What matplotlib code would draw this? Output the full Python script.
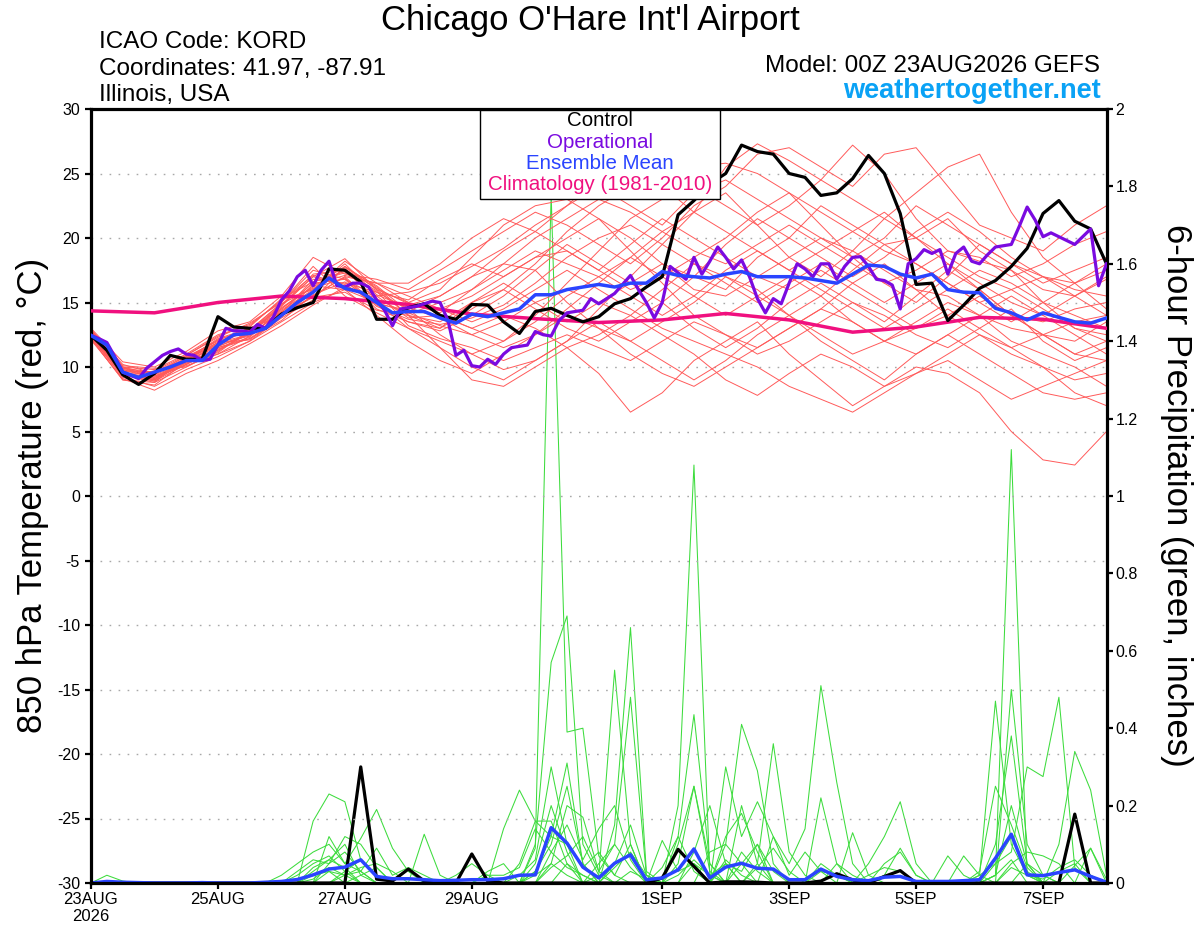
import numpy as np
import matplotlib
matplotlib.use('Agg')
import matplotlib.pyplot as plt
from matplotlib.patches import Rectangle

# ---------------- data ----------------
hours3 = np.arange(0, 385, 3)
hours6 = np.arange(0, 385, 6)
hours12 = np.arange(0, 385, 12)
hours24 = np.arange(0, 385, 24)

tick_hours = [0, 48, 96, 144, 216, 264, 312, 360]
tick_labels = ['23AUG\n2026', '25AUG', '27AUG', '29AUG', '1SEP', '3SEP', '5SEP', '7SEP']

control_t = [12.45, 11.3, 9.4, 8.65, 9.5, 10.9, 10.6, 10.6,
             13.9, 13.1, 13.0, 13.0, 14.1, 14.6, 15.0, 17.6,
             17.5, 16.6, 13.7, 13.7, 14.6, 14.9, 14.0, 13.7,
             14.85, 14.8, 13.5, 12.6, 14.3, 14.55, 14.0, 13.5,
             13.9, 14.9, 15.3, 16.2, 17.0, 21.8, 22.9, 24.2,
             25.0, 27.2, 26.7, 26.5, 25.0, 24.7, 23.3, 23.5,
             24.6, 26.4, 25.0, 21.9, 16.4, 16.5, 13.6, 14.8,
             16.1, 16.7, 17.8, 19.2, 21.9, 22.9, 21.3, 20.7,
             18.0]

operational_t = [12.45, 12.2, 11.9, 10.8, 9.6, 9.35, 9.1, 9.9,
                 10.4, 10.9, 11.2, 11.4, 11.0, 10.9, 10.5, 10.6,
                 11.7, 13.0, 12.8, 12.8, 12.7, 13.3, 13.0, 13.9,
                 15.2, 15.9, 17.0, 17.5, 16.3, 17.5, 18.2, 16.3,
                 16.2, 16.5, 16.5, 16.2, 15.2, 14.4, 13.2, 14.5,
                 14.6, 14.7, 14.9, 15.1, 15.0, 13.6, 10.9, 11.3,
                 10.1, 10.0, 10.6, 10.2, 11.0, 11.5, 11.6, 11.7,
                 12.75, 12.5, 12.4, 13.6, 14.2, 14.3, 14.4, 15.3,
                 14.9, 15.3, 15.7, 16.4, 17.1, 16.0, 15.0, 13.8,
                 15.0, 17.8, 17.3, 16.8, 18.5, 17.2, 18.2, 19.3,
                 18.5, 17.6, 18.3, 17.0, 15.3, 14.2, 15.3, 14.9,
                 16.5, 18.0, 17.6, 17.0, 18.0, 18.0, 16.8, 17.8,
                 18.5, 18.55, 17.8, 16.8, 16.7, 16.35, 14.5, 18.0,
                 18.4, 19.1, 18.8, 19.1, 17.2, 18.8, 19.3, 18.2,
                 18.0, 18.7, 19.3, 19.4, 19.5, 20.9, 22.4, 21.4,
                 20.1, 20.4, 20.1, 19.8, 19.5, 20.1, 20.7, 16.3,
                 18.0]

mean_t = [12.45, 11.7, 9.6, 9.2, 9.6, 10.0, 10.5, 10.5,
          11.7, 12.5, 12.6, 13.0, 14.0, 15.0, 15.8, 16.9,
          16.1, 15.8, 15.0, 14.2, 14.3, 14.3, 13.8, 13.4,
          14.1, 13.9, 14.2, 14.5, 15.6, 15.6, 16.0, 16.2,
          16.4, 16.2, 16.5, 16.5, 17.4, 17.1, 17.0, 16.9,
          17.2, 17.4, 17.0, 17.0, 17.0, 16.9, 16.7, 16.5,
          17.2, 17.9, 17.8, 17.2, 16.9, 17.2, 16.0, 15.8,
          15.75, 14.55, 14.2, 13.65, 14.2, 13.85, 13.5, 13.4,
          13.8]

climatology_t = [14.35, 14.2, 15.0, 15.5, 15.3, 14.85, 14.1, 13.75, 13.45,
                 13.65, 14.15, 13.65, 12.7, 13.1, 13.85, 13.7, 13.0]

member_t = [
    [12.8, 9.8, 9.2, 10.2, 11.5, 12.3, 14.5, 16.5, 16.8, 15.5, 15.8,
     16.5, 17.8, 19.2, 21.0, 22.5, 24.8, 25.5, 24.0, 22.0, 25.5, 27.3,
     26.0, 24.5, 27.2, 25.0, 21.5, 19.0, 18.2, 17.5, 16.0, 15.5, 16.8],
    [12.6, 9.4, 8.8, 10.8, 12.0, 12.8, 15.0, 17.8, 15.5, 14.2, 13.0,
     12.0, 11.0, 9.8, 10.5, 12.0, 14.5, 17.0, 19.5, 22.0, 23.5, 21.0,
     18.5, 17.0, 19.0, 21.5, 23.5, 25.5, 26.5, 22.0, 18.5, 16.5, 14.5],
    [12.3, 9.2, 8.5, 9.8, 10.8, 12.0, 13.8, 15.2, 17.8, 16.2, 14.0,
     11.5, 9.0, 8.5, 10.0, 11.5, 9.5, 6.5, 8.0, 10.5, 12.0, 13.5,
     11.0, 9.0, 7.0, 8.5, 10.0, 9.5, 8.0, 5.0, 2.8, 2.4, 5.0],
    [12.5, 10.0, 9.8, 11.0, 12.5, 13.2, 15.2, 16.0, 18.2, 16.5, 15.0,
     14.5, 15.5, 17.0, 18.5, 20.0, 21.5, 19.0, 16.5, 14.0, 12.5, 11.0,
     12.0, 13.5, 15.0, 14.0, 12.5, 11.5, 13.0, 14.5, 12.0, 10.5, 11.5],
    [12.9, 10.2, 9.5, 10.4, 11.8, 12.4, 14.0, 15.5, 17.0, 14.8, 13.5,
     13.0, 15.0, 16.5, 15.0, 13.5, 15.0, 16.5, 18.0, 17.0, 16.0, 18.5,
     20.0, 22.5, 21.0, 19.5, 20.0, 21.5, 19.0, 17.5, 15.0, 13.0, 12.0],
    [12.2, 9.0, 8.8, 10.0, 11.2, 12.8, 14.8, 17.2, 17.5, 15.2, 14.8,
     15.5, 17.0, 18.0, 17.5, 15.0, 13.0, 11.0, 9.5, 8.5, 10.0, 11.5,
     13.0, 14.5, 16.5, 18.0, 16.0, 14.0, 12.5, 11.0, 10.0, 9.0, 9.5],
    [12.7, 9.6, 9.0, 10.6, 12.2, 13.0, 14.2, 16.8, 16.5, 15.8, 14.5,
     12.5, 11.0, 12.0, 14.0, 16.5, 19.0, 21.5, 23.0, 25.5, 25.8, 25.0,
     23.5, 21.0, 18.5, 16.5, 15.0, 17.0, 19.5, 18.0, 16.5, 17.5, 18.5],
    [12.4, 9.5, 9.4, 10.3, 11.0, 12.0, 13.5, 15.0, 16.0, 14.0, 12.0,
     10.5, 9.5, 11.0, 12.5, 14.0, 13.0, 12.0, 13.5, 15.0, 17.0, 16.0,
     14.0, 12.5, 11.0, 12.0, 13.5, 15.0, 14.0, 12.0, 11.0, 10.0, 8.5],
    [13.0, 10.4, 10.0, 11.2, 12.8, 13.5, 15.5, 18.5, 17.2, 16.8, 16.0,
     17.5, 19.0, 20.5, 22.0, 21.0, 19.5, 18.0, 20.0, 22.5, 24.0, 26.5,
     27.0, 25.5, 24.0, 26.5, 27.0, 24.0, 21.0, 20.0, 19.0, 21.0, 22.5],
    [12.1, 9.1, 8.2, 9.5, 10.5, 11.8, 13.2, 14.8, 16.2, 15.5, 13.8,
     14.0, 13.0, 12.0, 13.5, 15.5, 17.0, 15.5, 14.0, 15.5, 17.5, 19.0,
     17.5, 16.0, 14.5, 13.0, 14.5, 16.0, 17.5, 16.5, 15.0, 14.0, 13.0],
    [12.6, 9.7, 9.6, 10.8, 11.6, 12.6, 14.6, 16.2, 17.8, 16.0, 15.0,
     16.0, 18.5, 21.0, 22.5, 23.0, 21.5, 20.0, 18.0, 16.0, 15.5, 17.0,
     18.5, 20.0, 19.0, 17.5, 16.0, 15.5, 14.0, 13.0, 12.5, 11.0, 10.5],
    [12.8, 10.0, 9.1, 10.2, 11.4, 12.2, 13.6, 15.6, 16.6, 15.0, 14.2,
     13.2, 12.5, 13.5, 15.0, 16.0, 15.0, 14.0, 12.5, 11.0, 9.0, 7.8,
     9.5, 11.0, 10.0, 8.5, 9.5, 11.0, 12.5, 11.5, 10.0, 8.0, 7.0],
    [12.3, 9.3, 9.7, 10.9, 12.3, 13.4, 15.0, 17.5, 16.8, 14.5, 13.5,
     12.8, 14.0, 15.5, 17.5, 19.5, 18.0, 16.5, 15.0, 17.0, 19.5, 21.5,
     20.0, 18.5, 17.0, 18.5, 20.5, 22.0, 20.5, 18.5, 17.0, 16.0, 15.5],
    [12.5, 9.9, 9.3, 10.1, 11.0, 12.4, 14.4, 16.0, 18.0, 15.6, 14.6,
     13.8, 12.5, 11.5, 12.5, 14.5, 16.5, 18.5, 17.0, 15.5, 14.0, 15.5,
     17.0, 15.5, 13.5, 12.0, 13.0, 14.5, 13.0, 11.5, 12.5, 13.5, 14.0],
    [12.7, 9.4, 8.9, 10.5, 12.1, 12.9, 14.1, 15.4, 15.8, 14.4, 14.0,
     13.5, 15.0, 16.0, 18.0, 20.5, 22.5, 24.0, 25.5, 24.0, 22.5, 21.0,
     22.5, 24.5, 23.0, 21.5, 20.0, 18.5, 17.0, 16.0, 14.5, 13.0, 12.5],
    [12.4, 9.8, 9.5, 10.7, 11.9, 12.1, 13.9, 16.4, 17.1, 16.5, 15.5,
     14.5, 13.5, 14.5, 16.0, 17.5, 16.0, 14.5, 13.0, 12.0, 11.0, 10.0,
     8.5, 7.5, 6.5, 8.0, 9.5, 10.5, 9.0, 7.5, 8.5, 9.5, 10.5],
    [12.9, 10.1, 9.9, 10.0, 11.3, 12.7, 14.7, 17.0, 16.3, 15.3, 14.1,
     15.0, 16.0, 17.5, 19.0, 18.0, 17.0, 18.5, 20.5, 22.0, 20.5, 19.0,
     17.5, 19.0, 20.5, 22.0, 20.0, 18.0, 16.5, 15.0, 14.0, 15.5, 17.0],
    [12.2, 9.0, 8.6, 10.4, 11.7, 13.1, 15.3, 16.6, 17.4, 15.9, 13.2,
     12.2, 11.5, 10.5, 11.5, 12.5, 11.5, 10.5, 12.0, 13.5, 12.5, 11.5,
     13.0, 14.5, 13.5, 12.0, 11.0, 12.5, 14.0, 15.5, 14.0, 12.5, 11.0],
    [12.6, 9.6, 9.0, 10.5, 11.9, 12.5, 14.3, 15.9, 17.6, 16.1, 14.9,
     14.2, 16.0, 18.0, 20.0, 21.5, 23.0, 22.0, 20.5, 19.0, 18.0, 19.5,
     21.0, 19.5, 18.0, 16.5, 17.5, 19.0, 18.5, 17.0, 18.0, 19.5, 20.5],
    [12.5, 9.5, 9.1, 10.6, 11.1, 12.9, 14.9, 16.1, 16.9, 14.7, 13.7,
     13.3, 13.8, 14.8, 16.5, 18.5, 20.0, 21.0, 19.5, 18.0, 16.5, 15.0,
     16.5, 18.0, 16.5, 15.0, 16.5, 18.0, 16.0, 14.0, 13.5, 14.5, 15.0],
    [12.6, 9.7, 9.3, 10.3, 11.3, 12.6, 14.8, 17.0, 18.4, 16.0, 14.0,
     13.0, 14.5, 16.0, 14.5, 13.0, 12.0, 13.5, 15.0, 13.0, 11.5, 13.0,
     15.0, 16.5, 15.0, 13.5, 15.5, 17.5, 16.0, 14.0, 12.5, 11.0, 12.0],
    [12.4, 9.5, 9.0, 10.7, 12.1, 13.0, 14.0, 15.5, 17.0, 16.5, 16.5,
     18.0, 20.0, 21.5, 20.5, 22.5, 24.0, 22.5, 21.0, 23.5, 24.5, 23.0,
     21.5, 20.0, 18.5, 20.0, 22.5, 21.0, 19.5, 18.0, 17.0, 16.5, 17.5],
    [12.7, 9.9, 9.6, 10.6, 11.8, 12.9, 14.5, 16.3, 16.0, 15.0, 13.0,
     11.5, 10.0, 9.0, 10.5, 12.0, 13.5, 12.0, 10.5, 9.0, 10.5, 12.5,
     14.0, 12.0, 10.5, 9.0, 11.0, 12.5, 11.0, 9.5, 8.0, 7.5, 8.0],
    [12.3, 9.4, 9.2, 10.4, 11.6, 12.5, 14.2, 16.6, 17.3, 15.8, 15.2,
     16.8, 18.0, 17.0, 18.5, 19.0, 17.5, 16.0, 17.0, 18.5, 20.0, 22.0,
     23.5, 22.0, 20.5, 19.0, 18.0, 16.5, 15.0, 16.0, 17.0, 15.5, 14.0],
    [12.8, 10.0, 9.4, 10.9, 12.4, 13.3, 15.1, 17.1, 16.4, 14.9, 14.4,
     14.0, 13.0, 14.0, 13.0, 11.5, 12.5, 14.0, 16.0, 18.0, 17.0, 15.5,
     14.0, 15.5, 17.5, 19.5, 18.0, 16.5, 15.0, 13.5, 15.0, 16.5, 18.0],
    [12.5, 9.6, 8.9, 10.2, 11.5, 12.2, 13.9, 15.8, 17.7, 16.3, 14.3,
     15.5, 17.0, 19.0, 20.5, 19.0, 17.5, 19.5, 21.5, 20.0, 18.5, 17.0,
     16.0, 17.5, 16.0, 14.5, 13.0, 14.0, 15.5, 14.0, 12.5, 12.0, 13.5],
]

control_p = [0, 0, 0, 0, 0, 0, 0, 0, 0, 0, 0, 0, 0, 0, 0, 0,
             0, .30, .01, .005, .036, .005, 0, 0, .075, .005, 0, 0, 0, 0, 0, 0,
             0, 0, 0, 0, .013, .087, .043, 0, .003, .003, .002, 0, 0, 0, .005, .024,
             .008, 0, .017, .032, 0, 0, 0, 0, 0, 0, 0, 0, 0, 0, .178, 0,
             0]

mean_p = [0, .004, .002, .001, 0, 0, 0, .001, 0, 0, 0, .002, .004, .009, .021, .036,
          .041, .060, .017, .011, .011, .0085, .006, .007, .0085, .0085, .011, .020, .021, .143, .103, .041,
          .013, .051, .073, .0085, .013, .034, .088, .013, .041, .051, .038, .036, .0085, .0085, .036, .017,
          .0085, .006, .015, .017, .004, .004, .004, .006, .0085, .064, .126, .021, .019, .027, .034, .017,
          .002]

member_p = [
    [0, 0, 0, 0, 0, 0, 0, 0, 0, 0, 0, 0, 0, 0, 0, .05,
     .08, .03, 0, 0, 0, 0, 0, 0, 0, 0, 0, 0, .09, 1.78, .39, .40,
     .07, .02, 0, 0, 0, 0, .05, .02, 0, .08, .03, 0, 0, 0, 0, 0,
     0, 0, 0, 0, 0, 0, 0, 0, 0, .02, .06, 0, 0, 0, 0, 0, 0],
    [0, 0, 0, 0, 0, 0, 0, 0, 0, 0, 0, 0, 0, 0, .16, .23,
     .21, .06, .02, 0, 0, 0, 0, 0, 0, 0, 0, 0, .10, .57, .69, .10,
     .02, 0, 0, 0, 0, .05, .25, .03, 0, 0, 0, 0, 0, 0, .05, .02,
     0, 0, 0, 0, 0, 0, 0, 0, 0, 0, .50, .10, .02, 0, 0, 0, 0],
    [0, 0, 0, 0, 0, 0, 0, 0, 0, 0, 0, 0, 0, 0, 0, .12,
     .05, .115, .19, .09, .03, 0, 0, 0, 0, 0, 0, .05, .16, .16, .05, 0,
     .02, .55, .10, 0, 0, .20, 1.08, .02, .05, 0, 0, 0, 0, 0, .22, .05,
     0, 0, 0, 0, 0, 0, 0, 0, 0, 0, 0, 0, 0, .10, .34, .24, .02],
    [0, 0, 0, 0, 0, 0, 0, 0, 0, 0, 0, 0, 0, .02, .05, .07,
     .03, 0, 0, 0, 0, 0, 0, 0, 0, 0, .14, .24, .16, .12, .31, .05,
     0, .15, .66, .03, 0, 0, 0, 0, .10, .41, .29, .05, 0, 0, 0, 0,
     0, 0, 0, 0, 0, 0, 0, 0, .02, .47, .10, .02, 0, 0, 0, 0, 0],
    [0, 0, 0, 0, 0, 0, 0, 0, 0, 0, 0, 0, 0, 0, 0, 0,
     .02, .04, .05, .03, 0, .126, .02, 0, 0, 0, 0, 0, 0, .05, .20, .17,
     .03, .10, .48, .02, 0, .12, .435, .05, 0, 0, .05, .36, .08, .02, 0, 0,
     0, 0, 0, 0, 0, 0, 0, 0, 0, .02, 1.12, .02, 0, 0, 0, 0, 0],
    [0, 0, 0, 0, 0, 0, 0, 0, 0, 0, 0, 0, 0, 0, .03, .06,
     .04, 0, 0, 0, 0, 0, 0, 0, 0, .02, .02, .04, .14, .08, .15, .06,
     .14, .20, .06, 0, 0, 0, 0, 0, .30, .12, .21, .12, .05, .14, .51, .26,
     .05, 0, .02, .09, .02, 0, 0, 0, 0, 0, 0, 0, 0, 0, 0, 0, 0],
    [0, 0, 0, 0, 0, 0, 0, 0, 0, 0, 0, 0, 0, 0, 0, .03,
     .02, .03, 0, 0, 0, 0, 0, 0, 0, 0, 0, 0, .05, .20, .08, 0,
     0, 0, 0, 0, .11, .03, .05, 0, 0, .05, .10, 0, 0, 0, 0, 0,
     .13, .02, 0, 0, 0, 0, 0, 0, .02, .05, .08, .30, .275, .48, .04, 0, 0],
    [0, 0, 0, 0, 0, 0, 0, 0, 0, 0, 0, 0, 0, 0, 0, 0,
     0, .02, .04, 0, 0, 0, 0, 0, 0, 0, 0, 0, .03, .12, .10, .04,
     .08, .02, .10, 0, 0, 0, 0, .08, .10, .05, 0, 0, 0, 0, 0, 0,
     0, .05, .12, .21, .05, 0, 0, 0, 0, .05, .12, .03, 0, 0, .045, .09, .01],
    [0, .02, .005, 0, 0, 0, 0, 0, 0, 0, 0, 0, 0, 0, .02, .03,
     0, 0, 0, 0, 0, 0, 0, 0, 0, 0, 0, 0, 0, 0, .05, .02,
     0, .05, .15, .02, 0, .10, .25, .05, 0, .20, .05, 0, 0, 0, 0, 0,
     0, 0, 0, 0, 0, 0, .07, .02, 0, 0, .05, .08, .07, .05, 0, 0, 0],
    [0, 0, 0, 0, 0, 0, 0, 0, 0, 0, 0, 0, 0, 0, .04, .06,
     .10, .02, 0, 0, 0, 0, 0, 0, 0, 0, 0, .02, .06, .30, .10, 0,
     .05, .10, .04, 0, 0, 0, 0, 0, .12, .18, .08, 0, 0, 0, 0, 0,
     0, 0, .05, .08, .02, 0, 0, .07, .02, 0, 0, .05, .02, 0, 0, 0, 0],
    [0, 0, 0, 0, 0, 0, 0, 0, 0, 0, 0, 0, 0, 0, 0, 0,
     .03, .06, .02, 0, 0, 0, 0, 0, 0, 0, 0, 0, 0, .04, .07, .12,
     .03, 0, 0, 0, 0, .02, .06, .02, 0, 0, 0, .12, .02, .08, .03, 0,
     0, 0, 0, 0, 0, 0, 0, 0, 0, .02, .20, .05, 0, 0, 0, .09, 0],
    [0, 0, 0, 0, 0, 0, 0, 0, 0, 0, 0, 0, 0, 0, .01, .04,
     .02, 0, 0, 0, 0, 0, 0, 0, 0, .03, .05, 0, .02, .05, .02, 0,
     0, 0, .03, .01, 0, 0, 0, 0, .05, .03, .10, .03, 0, 0, .03, .02,
     0, 0, 0, 0, 0, 0, 0, 0, 0, 0, .04, .02, .01, .04, .06, .02, 0],
    [0, 0, 0, 0, 0, 0, 0, 0, 0, 0, 0, 0, .02, .05, .08, .10,
     .05, .03, .09, .02, .04, .02, 0, 0, 0, 0, 0, 0, .03, .10, .25, .05,
     0, 0, 0, 0, .04, .12, .03, 0, .06, .02, 0, 0, 0, 0, 0, .05,
     .02, 0, 0, 0, 0, 0, 0, 0, 0, .10, .38, .05, 0, 0, 0, 0, 0],
    [0, 0, 0, 0, 0, 0, 0, 0, 0, 0, 0, 0, 0, .03, .06, .05,
     .12, .10, .04, 0, 0, 0, 0, .02, .05, .02, 0, 0, 0, .08, .04, .02,
     0, .04, .08, .02, 0, 0, .08, .20, .05, 0, .04, .09, .03, 0, 0, 0,
     0, .02, .04, .03, 0, 0, 0, 0, .03, .25, .15, .04, 0, .03, .05, 0, 0],
]

# ---------------- style ----------------
plt.rcParams['font.family'] = ['Liberation Sans', 'DejaVu Sans']
plt.rcParams['axes.unicode_minus'] = False

C_MEMBER_T = '#ff5a5a'
C_MEMBER_P = '#3ddc3d'
C_CONTROL = '#000000'
C_OPER = '#7a0ae0'
C_MEAN = '#2a44ff'
C_CLIM = '#f0107f'
C_SITE = '#0aa2f5'

W, H = 1200, 927
fig = plt.figure(figsize=(W / 100, H / 100), dpi=100)
fig.patch.set_facecolor('white')

L, R, T, B = 91, 1106.5, 109, 883
ax = fig.add_axes([L / W, 1 - B / H, (R - L) / W, (B - T) / H])
ax2 = ax.twinx()
ax.set_zorder(ax2.get_zorder() + 1)
ax.patch.set_visible(False)

# precipitation (right axis, drawn underneath)
for m in member_p:
    ax2.plot(hours6, m, color=C_MEMBER_P, lw=0.75, zorder=2)
ax2.plot(hours6, control_p, color=C_CONTROL, lw=2.3, zorder=4)
ax2.plot(hours6, mean_p, color=C_MEAN, lw=2.5, zorder=5)

# temperature (left axis)
for m in member_t:
    ax.plot(hours12, m, color=C_MEMBER_T, lw=0.7, zorder=2)
ax.plot(hours24, climatology_t, color=C_CLIM, lw=2.5, zorder=4)
ax.plot(hours6, control_t, color=C_CONTROL, lw=2.3, zorder=5)
ax.plot(hours3, operational_t, color=C_OPER, lw=2.3, zorder=6)
ax.plot(hours6, mean_t, color=C_MEAN, lw=2.5, zorder=7)

ax.set_xlim(0, 384)
ax.set_ylim(-30, 30)
ax2.set_ylim(0, 2)

ax.set_yticks(np.arange(-30, 31, 5))
ax.set_yticklabels([str(v) for v in range(-30, 31, 5)])
ax2.set_yticks(np.arange(0, 2.01, 0.2))
ax2.set_yticklabels(['%g' % round(v, 1) for v in np.arange(0, 2.01, 0.2)])
ax.set_xticks(tick_hours)
ax.set_xticklabels(tick_labels)

ax.yaxis.grid(True, linestyle=(0, (1.2, 5.3)), color='#a8a8a8', lw=1.0)
ax.set_axisbelow(True)

ax.tick_params(axis='y', direction='out', length=4.5, width=1.6, labelsize=11.5, pad=3.5)
ax.tick_params(axis='x', direction='out', length=4.5, width=1.6, labelsize=12, pad=2)
ax2.tick_params(axis='y', direction='out', length=4.5, width=1.6, labelsize=11.5, pad=2)

for s in ax.spines.values():
    s.set_linewidth(2.3)
for s in ax2.spines.values():
    s.set_visible(False)

# ---------------- texts ----------------
def fx(px):
    return px / W

def fy(py):
    return 1 - py / H

fig.text(fx(590), fy(30), "Chicago O'Hare Int'l Airport", fontsize=25, ha='center', va='baseline')
fig.text(fx(99), fy(48), 'ICAO Code: KORD', fontsize=17.5, ha='left', va='baseline')
fig.text(fx(99), fy(75), 'Coordinates: 41.97, -87.91', fontsize=17.5, ha='left', va='baseline')
fig.text(fx(99), fy(101), 'Illinois, USA', fontsize=17.5, ha='left', va='baseline')
fig.text(fx(1100), fy(72), 'Model: 00Z 23AUG2026 GEFS', fontsize=17.5, ha='right', va='baseline')
fig.text(fx(1101), fy(98), 'weathertogether.net', fontsize=19.5, ha='right', va='baseline',
         color=C_SITE, fontweight='bold')

fig.text(fx(33), fy(495), '850 hPa Temperature (red, \u00b0C)', fontsize=25,
         rotation=90, ha='center', va='center')
fig.text(fx(1176), fy(495), '6-hour Precipitation (green, inches)', fontsize=25,
         rotation=270, ha='center', va='center')

# legend box
box = Rectangle((fx(480), fy(199)), fx(720) - fx(480), fy(110.5) - fy(199),
                transform=fig.transFigure, facecolor='white', edgecolor='black',
                lw=1.0, zorder=20)
fig.patches.append(box)
legend_items = [('Control', C_CONTROL, 121), ('Operational', C_OPER, 142),
                ('Ensemble Mean', C_MEAN, 163.5), ('Climatology (1981-2010)', C_CLIM, 185)]
for label, col, yy in legend_items:
    fig.text(fx(600), fy(yy), label, color=col, fontsize=14.8, ha='center', va='center', zorder=21)

fig.savefig('out.png', dpi=100)
